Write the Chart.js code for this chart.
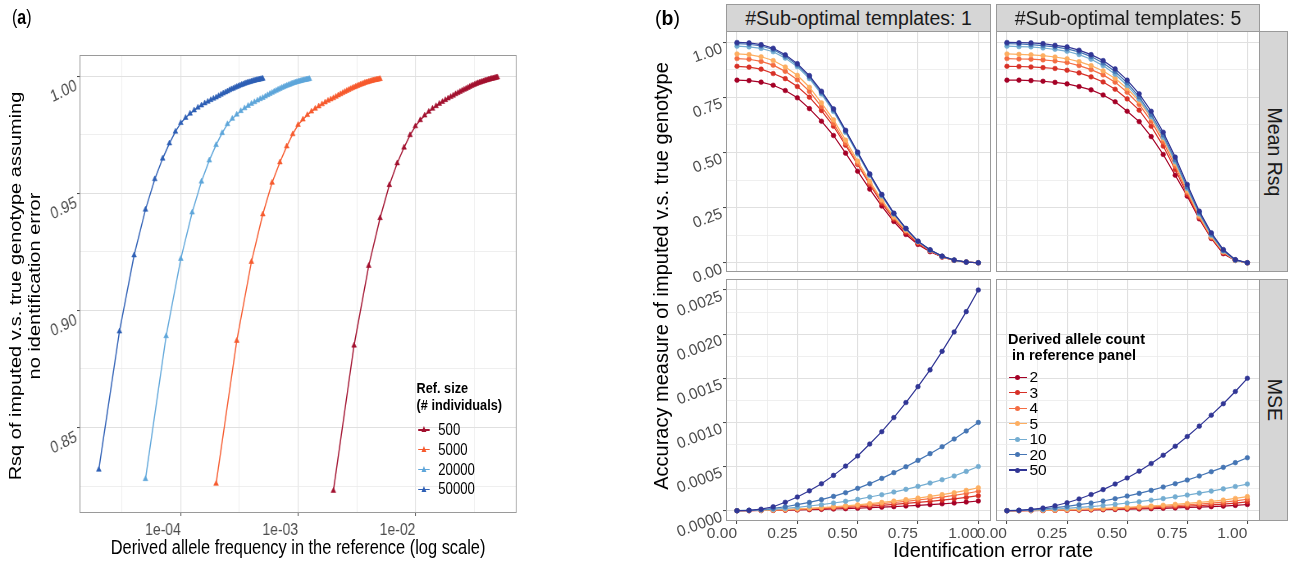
<!DOCTYPE html>
<html><head><meta charset="utf-8"><title>Imputation accuracy figure</title>
<script src="https://cdn.jsdelivr.net/npm/chart.js@4/dist/chart.umd.min.js"></script>
<style>
html,body{margin:0;padding:0;background:#fff;}
body{width:1295px;height:564px;overflow:hidden;position:relative;font-family:"Liberation Sans",Arial,Helvetica,sans-serif;color:#000;}
.abs{position:absolute;}
canvas{position:absolute;}
.lbl{position:absolute;white-space:pre;line-height:1.2;}
.strip{position:absolute;background:#d6d6d6;border:1px solid #9a9a9a;box-sizing:border-box;color:#1a1a1a;font-size:19.5px;overflow:hidden;}
.strip span{position:absolute;left:50%;top:50%;white-space:nowrap;}
</style></head>
<body>
<div id="pa" class="abs" style="left:0;top:0;width:800px;height:564px;transform:scaleX(0.82);transform-origin:0 0;">
  <canvas id="cA" width="638" height="538" style="left:22px;top:25px;"></canvas>
</div>
<div id="pb" class="abs" style="left:0;top:0;width:1295px;height:564px;"></div>
<script>
// ================= DATA : panel (a) =================
const alleleCounts = [2,3,4,5,6,7,8,9,10,11,12,13,14,15,16,17,18,19,20,21,22,23,24,25,26,27,28,29,30,31,32,33,34,35,36,37,38,39,40,41,42,43,44,45,46,47,48,49,50];
const refSizes = [500, 5000, 20000, 50000];
const rsqRef500 = [.8230,.8850,.9190,.9394,.9535,.9628,.9695,.9748,.9786,.9812,.9832,.9848,.9861,.9872,.9882,.9890,.9898,.9905,.9911,.9917,.9923,.9928,.9933,.9938,.9942,.9946,.9950,.9954,.9958,.9961,.9964,.9967,.9970,.9972,.9974,.9976,.9978,.9980,.9982,.9983,.9985,.9986,.9988,.9989,.9990,.9991,.9993,.9994,.9995];
const rsqRef5000 = [.8260,.8870,.9207,.9410,.9545,.9632,.9700,.9752,.9792,.9815,.9834,.9849,.9861,.9871,.9880,.9888,.9895,.9901,.9906,.9912,.9918,.9923,.9928,.9933,.9937,.9941,.9945,.9949,.9952,.9955,.9958,.9961,.9964,.9966,.9968,.9971,.9973,.9974,.9976,.9978,.9979,.9981,.9982,.9983,.9984,.9985,.9986,.9987,.9988];
const rsqRef20000 = [.8280,.8890,.9220,.9418,.9550,.9640,.9706,.9757,.9795,.9818,.9836,.9851,.9863,.9873,.9882,.9889,.9896,.9902,.9907,.9913,.9919,.9924,.9929,.9934,.9938,.9942,.9946,.9950,.9953,.9956,.9959,.9962,.9964,.9967,.9969,.9971,.9973,.9975,.9976,.9978,.9979,.9981,.9982,.9983,.9984,.9985,.9986,.9987,.9988];
const rsqRef50000 = [.8320,.8910,.9235,.9430,.9560,.9648,.9713,.9763,.9800,.9822,.9840,.9854,.9866,.9875,.9884,.9891,.9898,.9904,.9909,.9915,.9921,.9926,.9931,.9935,.9940,.9944,.9947,.9951,.9954,.9957,.9960,.9963,.9965,.9968,.9970,.9972,.9974,.9975,.9977,.9979,.9980,.9982,.9983,.9984,.9985,.9986,.9987,.9988,.9989];
const freqTickLabels = ['1e-04','1e-03','1e-02'];
const rsqTickLabelsA = ['0.85','0.90','0.95','1.00'];

// ================= DATA : panel (b) =================
const errRate = [0,0.05,0.10,0.15,0.20,0.25,0.30,0.35,0.40,0.45,0.50,0.55,0.60,0.65,0.70,0.75,0.80,0.85,0.90,0.95,1.00];
const derivedCounts = [2,3,4,5,10,20,50];
const templateCounts = [1,5];
// Mean Rsq, 1 sub-optimal template
const rsqT1_c2  = [0.828,0.826,0.819,0.805,0.781,0.748,0.699,0.642,0.577,0.497,0.415,0.334,0.257,0.187,0.128,0.083,0.050,0.026,0.011,0.003,0.000];
const rsqT1_c3  = [0.891,0.887,0.878,0.858,0.835,0.799,0.751,0.690,0.619,0.533,0.446,0.355,0.270,0.198,0.137,0.088,0.053,0.026,0.011,0.003,0.000];
const rsqT1_c4  = [0.926,0.923,0.913,0.896,0.868,0.830,0.777,0.708,0.632,0.542,0.450,0.361,0.279,0.204,0.144,0.093,0.056,0.028,0.011,0.003,0.000];
const rsqT1_c5  = [0.947,0.944,0.934,0.917,0.888,0.850,0.796,0.725,0.648,0.556,0.461,0.370,0.285,0.208,0.147,0.095,0.057,0.029,0.011,0.003,0.000];
const rsqT1_c10 = [0.982,0.979,0.972,0.957,0.928,0.889,0.835,0.765,0.686,0.591,0.493,0.396,0.303,0.220,0.153,0.096,0.057,0.029,0.012,0.003,0.000];
const rsqT1_c20 = [0.994,0.991,0.983,0.967,0.937,0.897,0.843,0.772,0.693,0.597,0.498,0.400,0.307,0.223,0.155,0.097,0.058,0.029,0.012,0.003,0.000];
const rsqT1_c50 = [0.999,0.997,0.989,0.973,0.943,0.903,0.849,0.778,0.698,0.601,0.502,0.403,0.310,0.225,0.156,0.098,0.059,0.030,0.012,0.003,0.000];
// Mean Rsq, 5 sub-optimal templates
const rsqT5_c2  = [0.828,0.828,0.826,0.823,0.818,0.811,0.799,0.784,0.761,0.730,0.687,0.640,0.572,0.491,0.397,0.302,0.199,0.110,0.041,0.011,0.000];
const rsqT5_c3  = [0.891,0.890,0.888,0.885,0.881,0.873,0.861,0.843,0.820,0.787,0.743,0.692,0.619,0.529,0.423,0.310,0.204,0.113,0.045,0.011,0.000];
const rsqT5_c4  = [0.926,0.924,0.923,0.920,0.915,0.908,0.894,0.876,0.852,0.819,0.773,0.718,0.642,0.548,0.438,0.319,0.208,0.116,0.048,0.011,0.000];
const rsqT5_c5  = [0.947,0.945,0.943,0.939,0.933,0.925,0.912,0.894,0.870,0.836,0.790,0.733,0.657,0.562,0.449,0.326,0.213,0.119,0.050,0.011,0.000];
const rsqT5_c10 = [0.982,0.980,0.979,0.974,0.968,0.959,0.944,0.923,0.894,0.855,0.804,0.742,0.662,0.569,0.458,0.337,0.221,0.125,0.053,0.012,0.000];
const rsqT5_c20 = [0.994,0.992,0.989,0.985,0.979,0.970,0.956,0.935,0.906,0.867,0.816,0.752,0.672,0.579,0.467,0.344,0.227,0.130,0.056,0.012,0.000];
const rsqT5_c50 = [0.999,0.998,0.997,0.994,0.986,0.979,0.964,0.944,0.917,0.879,0.828,0.766,0.687,0.592,0.479,0.355,0.234,0.136,0.060,0.014,0.000];
// MSE, 1 sub-optimal template
const mseT1_c2  = [0,0.000001,0.000002,0.000004,0.000006,0.000009,0.000012,0.000015,0.000019,0.000023,0.000028,0.000034,0.000040,0.000046,0.000053,0.000061,0.000069,0.000078,0.000087,0.000098,0.000110];
const mseT1_c3  = [0,0.000001,0.000003,0.000005,0.000009,0.000013,0.000018,0.000023,0.000029,0.000036,0.000043,0.000052,0.000061,0.000071,0.000082,0.000094,0.000106,0.000119,0.000134,0.000150,0.000170];
const mseT1_c4  = [0,0.000002,0.000004,0.000007,0.000011,0.000017,0.000023,0.000030,0.000038,0.000046,0.000056,0.000068,0.000080,0.000093,0.000106,0.000121,0.000137,0.000154,0.000173,0.000195,0.000220];
const mseT1_c5  = [0,0.000002,0.000004,0.000008,0.000013,0.000020,0.000027,0.000035,0.000045,0.000055,0.000066,0.000080,0.000094,0.000109,0.000125,0.000143,0.000162,0.000182,0.000204,0.000230,0.000260];
const mseT1_c10 = [0,0.000004,0.000008,0.000015,0.000026,0.000038,0.000053,0.000068,0.000087,0.000106,0.000128,0.000155,0.000181,0.000211,0.000242,0.000276,0.000313,0.000351,0.000393,0.000445,0.000500];
const mseT1_c20 = [0,0.000004,0.000011,0.000026,0.000045,0.000068,0.000094,0.000125,0.000162,0.000204,0.000253,0.000306,0.000366,0.000431,0.000498,0.000570,0.000646,0.000725,0.000812,0.000903,0.001000];
const mseT1_c50 = [0,0.000004,0.000017,0.000045,0.000095,0.000155,0.000225,0.000305,0.000400,0.000505,0.000620,0.000755,0.000895,0.001055,0.001225,0.001405,0.001595,0.001805,0.002025,0.002255,0.002500];
// MSE, 5 sub-optimal templates
const mseT5_c2  = [0,0.000001,0.000001,0.000002,0.000004,0.000005,0.000007,0.000009,0.000011,0.000014,0.000017,0.000020,0.000023,0.000027,0.000031,0.000036,0.000041,0.000046,0.000052,0.000060,0.000070];
const mseT5_c3  = [0,0.000001,0.000002,0.000003,0.000005,0.000007,0.000010,0.000013,0.000016,0.000020,0.000024,0.000028,0.000033,0.000039,0.000045,0.000051,0.000058,0.000066,0.000075,0.000086,0.000100];
const mseT5_c4  = [0,0.000001,0.000002,0.000004,0.000006,0.000009,0.000013,0.000017,0.000021,0.000026,0.000031,0.000037,0.000043,0.000050,0.000058,0.000067,0.000076,0.000086,0.000097,0.000112,0.000130];
const mseT5_c5  = [0,0.000001,0.000003,0.000005,0.000008,0.000012,0.000016,0.000021,0.000026,0.000032,0.000039,0.000046,0.000054,0.000062,0.000072,0.000082,0.000094,0.000106,0.000120,0.000139,0.000160];
const mseT5_c10 = [0,0.000003,0.000007,0.000012,0.000019,0.000027,0.000037,0.000047,0.000059,0.000072,0.000087,0.000102,0.000119,0.000137,0.000157,0.000177,0.000199,0.000222,0.000247,0.000274,0.000302];
const mseT5_c20 = [0,0.000004,0.000011,0.000019,0.000034,0.000049,0.000068,0.000087,0.000110,0.000136,0.000166,0.000196,0.000230,0.000268,0.000306,0.000347,0.000393,0.000442,0.000491,0.000544,0.000600];
const mseT5_c50 = [0,0.000004,0.000014,0.000030,0.000056,0.000090,0.000133,0.000183,0.000239,0.000302,0.000371,0.000448,0.000534,0.000628,0.000730,0.000840,0.000958,0.001082,0.001212,0.001350,0.001500];
const errTickLabels = ['0.00','0.25','0.50','0.75','1.00'];
const rsqTickLabelsB = ['0.00','0.25','0.50','0.75','1.00'];
const mseTickLabels = ['0.0000','0.0005','0.0010','0.0015','0.0020','0.0025'];

// ================= STYLE =================
const FONT = '"Liberation Sans", Arial, Helvetica, sans-serif';
Chart.defaults.font.family = FONT;
Chart.defaults.animation = false;
const refColors = ['#A2112F','#F65A2E','#5EA6DA','#2E5FB5'];
const countColors = ['#A50026','#D73027','#F46D43','#FDAE61','#74ADD1','#4575B4','#313695'];
const GRID_MAJ = '#e0e0e0', GRID_MIN = '#ebebeb', TICK_COL = '#444', TXT_AX = '#4d4d4d';

const panelBorder = {
  id: 'panelBorder',
  afterDraw(chart) {
    const {ctx, chartArea: a} = chart;
    ctx.save();
    ctx.strokeStyle = '#9a9a9a';
    ctx.lineWidth = 1;
    ctx.strokeRect(Math.round(a.left) + 0.5, Math.round(a.top) + 0.5, Math.round(a.width) - 1, Math.round(a.height) - 1);
    ctx.restore();
  }
};

function gridOpts(isMajor, drawTicks) {
  return {
    color: c => isMajor(c.index) ? GRID_MAJ : GRID_MIN,
    lineWidth: c => isMajor(c.index) ? 1.1 : 0.8,
    drawTicks: drawTicks,
    tickLength: 3,
    tickColor: c => isMajor(c.index) ? TICK_COL : 'rgba(0,0,0,0)',
    tickWidth: 1
  };
}

// ================= PANEL (a) =================
const pa = document.getElementById('pa');
const pb = document.getElementById('pb');
const freqGrid = [Math.pow(10,-4.5), 1e-4, Math.pow(10,-3.5), 1e-3, Math.pow(10,-2.5), 1e-2, Math.pow(10,-1.5)];
const rsqGridA = [0.825,0.85,0.875,0.9,0.925,0.95,0.975,1.0];
const oddMajor = i => i % 2 === 1;
const evenMajor = i => i % 2 === 0;
const aSeries = [rsqRef500, rsqRef5000, rsqRef20000, rsqRef50000];

new Chart(document.getElementById('cA'), {
  type: 'line',
  data: {
    datasets: refSizes.map((n, i) => ({
      label: String(n),
      data: alleleCounts.map((c, j) => ({x: c / (2 * n), y: aSeries[i][j]})),
      borderColor: refColors[i], backgroundColor: refColors[i], pointBackgroundColor: refColors[i],
      borderWidth: 1.4, pointStyle: 'triangle', pointRadius: 3.3, pointBorderWidth: 0.6, tension: 0
    }))
  },
  options: {
    responsive: false, animation: false, events: [],
    layout: {padding: {left: 5, right: 30, top: 30, bottom: 5}},
    plugins: {legend: {display: false}, tooltip: {enabled: false}},
    scales: {
      x: {
        type: 'logarithmic', min: Math.pow(10, -4.863), max: Math.pow(10, -1.137),
        afterBuildTicks: ax => { ax.ticks = freqGrid.map(v => ({value: v})); },
        afterFit: ax => { ax.height = 45; },
        ticks: {autoSkip: false, minRotation: 0, maxRotation: 0, align: 'end', padding: 4, color: TXT_AX, font: {size: 17},
          callback: (v, i) => oddMajor(i) ? freqTickLabels[(i - 1) / 2] : ''},
        grid: gridOpts(oddMajor, true),
        border: {display: false}
      },
      y: {
        type: 'linear', min: 0.8135, max: 1.009,
        afterBuildTicks: ax => { ax.ticks = rsqGridA.map(v => ({value: v})); },
        afterFit: ax => { ax.width = 70; },
        ticks: {autoSkip: false, minRotation: 23, maxRotation: 23, padding: 1, labelOffset: 9, color: TXT_AX, font: {size: 17},
          callback: (v, i) => oddMajor(i) ? rsqTickLabelsA[(i - 1) / 2] : ''},
        grid: gridOpts(oddMajor, true),
        border: {display: false}
      }
    }
  },
  plugins: [panelBorder]
});

// ================= PANEL (b) facets =================
const COLS = [{x: 726, w: 265}, {x: 996, w: 264}];
const ROWS = [{y: 31, h: 241}, {y: 279, h: 242}];
const errGrid = [0,0.125,0.25,0.375,0.5,0.625,0.75,0.875,1.0];
const rsqGridB = [0,0.125,0.25,0.375,0.5,0.625,0.75,0.875,1.0];
const mseGrid = [0,0.00025,0.0005,0.00075,0.001,0.00125,0.0015,0.00175,0.002,0.00225,0.0025];
const facetSeries = [
  [[rsqT1_c2,rsqT1_c3,rsqT1_c4,rsqT1_c5,rsqT1_c10,rsqT1_c20,rsqT1_c50],
   [rsqT5_c2,rsqT5_c3,rsqT5_c4,rsqT5_c5,rsqT5_c10,rsqT5_c20,rsqT5_c50]],
  [[mseT1_c2,mseT1_c3,mseT1_c4,mseT1_c5,mseT1_c10,mseT1_c20,mseT1_c50],
   [mseT5_c2,mseT5_c3,mseT5_c4,mseT5_c5,mseT5_c10,mseT5_c20,mseT5_c50]]
];
const rowY = [
  {min: -0.042, max: 1.051, grid: rsqGridB, labels: rsqTickLabelsB},
  {min: -0.0001167, max: 0.0026246, grid: mseGrid, labels: mseTickLabels}
];

function makeFacet(r, c) {
  const showY = c === 0, showX = r === 1;
  const yW = showY ? 62 : 0, xH = showX ? 30 : 0;
  const padL = showY ? 4 : 25, padR = 12, padT = 25, padB = 20;
  const cv = document.createElement('canvas');
  cv.width = padL + yW + COLS[c].w + padR;
  cv.height = padT + ROWS[r].h + xH + padB;
  cv.style.left = (COLS[c].x - yW - padL) + 'px';
  cv.style.top = (ROWS[r].y - padT) + 'px';
  pb.appendChild(cv);
  const ys = rowY[r];
  const series = facetSeries[r][c];
  new Chart(cv, {
    type: 'line',
    data: {
      datasets: derivedCounts.map((dc, i) => ({
        label: String(dc),
        data: errRate.map((e, j) => ({x: e, y: series[i][j]})),
        borderColor: countColors[i], backgroundColor: countColors[i], pointBackgroundColor: countColors[i],
        borderWidth: 1.2, pointRadius: 2.3, pointBorderWidth: 0.6, tension: 0,
        order: derivedCounts.length - i
      }))
    },
    options: {
      responsive: false, animation: false, events: [],
      layout: {padding: {left: padL, right: padR, top: padT, bottom: padB}},
      plugins: {legend: {display: false}, tooltip: {enabled: false}},
      scales: {
        x: {
          type: 'linear', min: -0.0456, max: 1.0526,
          afterBuildTicks: ax => { ax.ticks = errGrid.map(v => ({value: v})); },
          afterFit: ax => { ax.height = xH; },
          ticks: {display: showX, autoSkip: false, minRotation: 0, maxRotation: 0, align: 'end', padding: 0, color: TXT_AX, font: {size: 15.5},
            callback: (v, i) => evenMajor(i) ? errTickLabels[i / 2] : ''},
          grid: gridOpts(evenMajor, showX),
          border: {display: false}
        },
        y: {
          type: 'linear', min: ys.min, max: ys.max,
          afterBuildTicks: ax => { ax.ticks = ys.grid.map(v => ({value: v})); },
          afterFit: ax => { ax.width = yW; },
          ticks: {display: showY, autoSkip: false, minRotation: 20, maxRotation: 20, padding: 1, labelOffset: 6, color: TXT_AX, font: {size: 15.5},
            callback: (v, i) => evenMajor(i) ? ys.labels[i / 2] : ''},
          grid: gridOpts(evenMajor, showY),
          border: {display: false}
        }
      }
    },
    plugins: [panelBorder]
  });
}
for (let r = 0; r < 2; r++) for (let c = 0; c < 2; c++) makeFacet(r, c);

// ================= TEXT & LEGENDS =================
function addText(parent, html, x, y, style, anchor, rot) {
  const d = document.createElement('div');
  d.className = 'lbl';
  d.innerHTML = html;
  d.style.left = x + 'px';
  d.style.top = y + 'px';
  d.style.transform = 'translate(' + (anchor === 'left' ? '0' : '-50%') + ',-50%)' + (rot ? ' rotate(' + rot + 'deg)' : '');
  Object.assign(d.style, style || {});
  parent.appendChild(d);
  return d;
}
function addKey(parent, cx, cy, color, shape, lineW) {
  const l = document.createElement('div');
  l.className = 'abs';
  Object.assign(l.style, {left: (cx - lineW / 2) + 'px', top: (cy - 0.6) + 'px', width: lineW + 'px', height: '1.2px', background: color});
  parent.appendChild(l);
  const m = document.createElement('div');
  m.className = 'abs';
  if (shape === 'circle') {
    Object.assign(m.style, {left: (cx - 2.5) + 'px', top: (cy - 2.5) + 'px', width: '5px', height: '5px', borderRadius: '50%', background: color});
  } else {
    Object.assign(m.style, {left: (cx - 3.5) + 'px', top: (cy - 3.8) + 'px', width: '0', height: '0',
      borderLeft: '3.5px solid transparent', borderRight: '3.5px solid transparent', borderBottom: '6px solid ' + color});
  }
  parent.appendChild(m);
}

// panel (a) texts (coordinates in the un-compressed frame of #pa)
addText(pa, '(<b>a</b>)', 14.6, 18, {fontSize: '19.5px'}, 'left');
addText(pa, 'Rsq of imputed v.s. true genotype assuming\nno identification error', 30, 286,
  {fontSize: '20px', lineHeight: '24px', textAlign: 'center'}, null, -90);
addText(pa, 'Derived allele frequency in the reference (log scale)', 363.5, 547, {fontSize: '20px'});
addText(pa, 'Ref. size', 508, 388, {fontSize: '15.5px', fontWeight: 'bold'}, 'left');
addText(pa, '(# individuals)', 508, 405, {fontSize: '15.5px', fontWeight: 'bold'}, 'left');
refSizes.forEach((n, i) => {
  const cy = 430 + i * 19.8;
  addKey(pa, 517, cy, refColors[i], 'triangle', 14.6);
  addText(pa, String(n), 534.5, cy, {fontSize: '16px'}, 'left');
});

// panel (b) texts
addText(pb, '(<b>b</b>)', 655, 19, {fontSize: '19.5px'}, 'left');
addText(pb, 'Accuracy measure of imputed v.s. true genotype', 661, 276, {fontSize: '20px'}, null, -90);
addText(pb, 'Identification error rate', 993, 550, {fontSize: '20px'});

// strips
function addStrip(x, y, w, h, text, vertical) {
  const s = document.createElement('div');
  s.className = 'strip';
  Object.assign(s.style, {left: x + 'px', top: y + 'px', width: w + 'px', height: h + 'px'});
  const t = document.createElement('span');
  t.textContent = text;
  t.style.transform = 'translate(-50%,-50%)' + (vertical ? ' rotate(90deg)' : '');
  s.appendChild(t);
  pb.appendChild(s);
}
templateCounts.forEach((t, c) => addStrip(COLS[c].x, 4, COLS[c].w, 28, '#Sub-optimal templates: ' + t, false));
['Mean Rsq', 'MSE'].forEach((lab, r) => addStrip(1259, ROWS[r].y, 29, ROWS[r].h, lab, true));

// legend of panel (b)
addText(pb, 'Derived allele count', 1008, 340, {fontSize: '14.5px', fontWeight: 'bold'}, 'left');
addText(pb, ' in reference panel', 1008, 356, {fontSize: '14.5px', fontWeight: 'bold'}, 'left');
derivedCounts.forEach((dc, i) => {
  const cy = 377.3 + i * 15.45;
  addKey(pb, 1017.7, cy, countColors[i], 'circle', 18);
  addText(pb, String(dc), 1029.5, cy, {fontSize: '15.5px'}, 'left');
});
</script>
</body></html>
